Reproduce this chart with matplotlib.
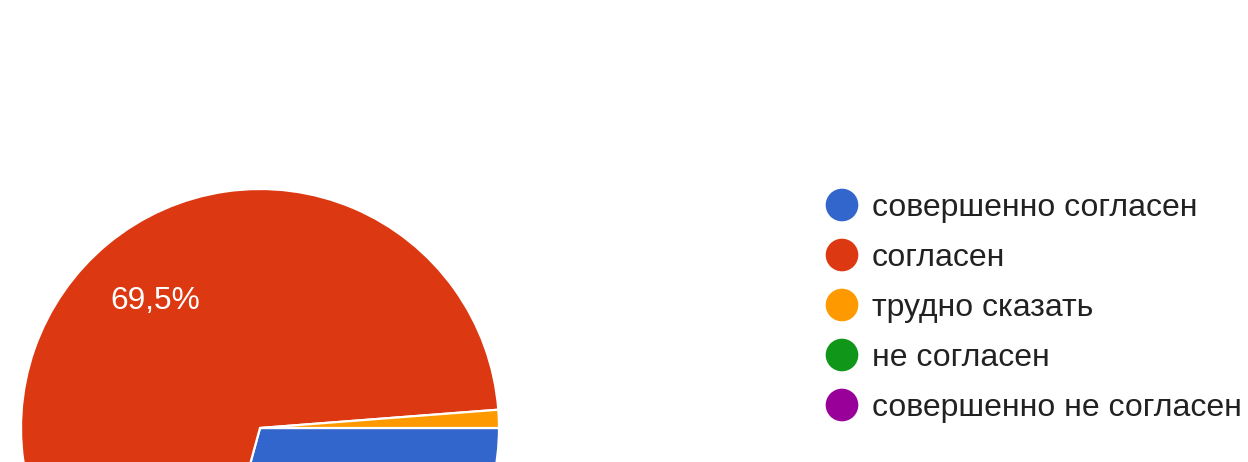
import matplotlib
matplotlib.use("Agg")
import matplotlib.pyplot as plt

categories = ["совершенно согласен", "согласен", "трудно сказать", "не согласен", "совершенно не согласен"]
counts = [24, 57, 1, 0, 0]
colors = ["#3366CC", "#DC3912", "#FF9900", "#109618", "#990099"]

W, H = 1248, 462
fig = plt.figure(figsize=(W / 100, H / 100), dpi=100)
fig.patch.set_facecolor("white")

# pie axes placed in pixel geometry (center ~ (260,428), radius ~239)
cx, cy, r = 260, 428, 239
ax = fig.add_axes([(cx - r) / W, (H - cy - r) / H, 2 * r / W, 2 * r / H])
vals = [c for c in counts if c > 0]
cols = [col for c, col in zip(counts, colors) if c > 0]


def fmt(p):
    if p < 5:
        return ""
    return ("%.1f%%" % p).replace(".", ",")


wedges, texts, autotexts = ax.pie(
    vals, colors=cols, startangle=0, counterclock=False, radius=1,
    autopct=fmt, pctdistance=0.69,
    wedgeprops=dict(edgecolor="white", linewidth=1.6),
    textprops=dict(color="white", fontsize=22.8, family="Liberation Sans"),
)
ax.set_xlim(-1, 1)
ax.set_ylim(-1, 1)
ax.set_aspect("auto")
ax.axis("off")

# legend drawn in pixel coordinates
lax = fig.add_axes([0, 0, 1, 1])
lax.set_xlim(0, W)
lax.set_ylim(H, 0)
lax.axis("off")
x0, y0, dy = 842, 205, 50
for i, (lab, col) in enumerate(zip(categories, colors)):
    y = y0 + i * dy
    lax.scatter([x0], [y], s=(23.5) ** 2, color=col, edgecolors="none")
    lax.text(x0 + 30, y + 3, lab, fontsize=23, color="#222222",
             family="Liberation Sans", va="center", ha="left")

fig.savefig("out.png", dpi=100, facecolor="white")
